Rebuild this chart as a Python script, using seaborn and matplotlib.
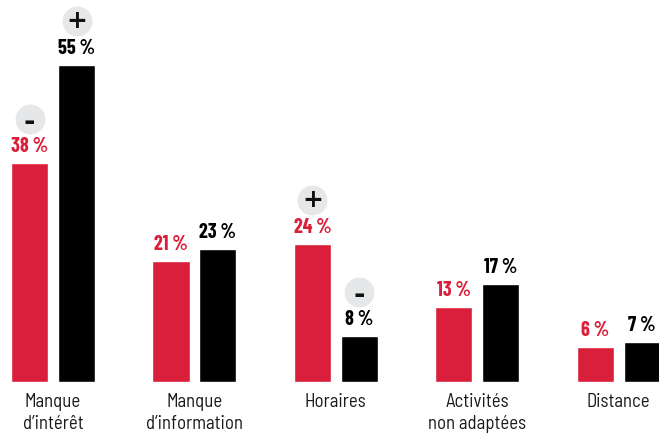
import matplotlib
matplotlib.use("Agg")
import matplotlib.pyplot as plt
import matplotlib.transforms as mtransforms
import pandas as pd
import seaborn as sns

# Reasons given, two groups compared
categories = ["Manque\nd\u2019intérêt", "Manque\nd\u2019information", "Horaires",
              "Activités\nnon adaptées", "Distance"]
values_red = [38, 21, 24, 13, 6]
values_black = [55, 23, 8, 17, 7]
signs_red = ["-", "", "+", "", ""]
signs_black = ["+", "", "-", "", ""]
groups = ["groupe A", "groupe B"]

RED = "#d91f3a"
BLACK = "#000000"
CIRCLE = "#e6e7e8"
NARROW = ["Barlow Condensed", "Roboto Condensed", "Archivo Narrow", "DejaVu Sans"]
SEMI = ["Barlow Semi Condensed", "Barlow Condensed", "DejaVu Sans"]

df = pd.DataFrame({
    "categorie": categories * 2,
    "valeur": values_red + values_black,
    "groupe": [groups[0]] * len(categories) + [groups[1]] * len(categories),
})

sns.set_theme(style="white")
plt.rcParams["font.family"] = NARROW

fig = plt.figure(figsize=(6.59, 4.33), dpi=100)
ax = fig.add_axes([0, 51 / 433, 1, 382 / 433])

sns.barplot(data=df, x="categorie", y="valeur", hue="groupe",
            order=categories, hue_order=groups,
            palette=[RED, BLACK], width=0.664, gap=0.21,
            legend=False, ax=ax, saturation=1)

ax.set_xlim(-0.375, 4.285)
ax.set_ylim(0, 66.2)
ax.set_xlabel("")
ax.set_ylabel("")
ax.set_yticks([])
for s in ax.spines.values():
    s.set_visible(False)
ax.tick_params(axis="x", length=0, pad=8)
for lab in ax.get_xticklabels():
    lab.set_fontsize(13.5)
    lab.set_family(SEMI)
    lab.set_linespacing(1.25)
    lab.set_color("#1a1a1a")
    lab.set_verticalalignment("top")

# Grey discs with a +/- sign sit above some bars
circle_tr = mtransforms.offset_copy(ax.transData, fig=fig, x=0, y=44, units="dots")
minus_tr = mtransforms.offset_copy(ax.transData, fig=fig, x=0, y=41, units="dots")
for container, vals, signs, col in zip(ax.containers,
                                       [values_red, values_black],
                                       [signs_red, signs_black],
                                       [RED, BLACK]):
    ax.bar_label(container, labels=[f"{v}\u2009%" for v in vals], padding=5,
                 color=col, fontsize=14.5, fontweight="bold", family=NARROW)
    for bar, v, sgn in zip(container, vals, signs):
        if not sgn:
            continue
        cx = bar.get_x() + bar.get_width() / 2
        ax.plot([cx], [v], marker="o", markersize=20.5, color=CIRCLE,
                transform=circle_tr, clip_on=False, zorder=3)
        ax.text(cx, v, sgn, transform=circle_tr if sgn == "+" else minus_tr,
                ha="center", va="center", fontsize=18 if sgn == "+" else 20,
                fontweight="bold", color="#111111", family=["DejaVu Sans"],
                zorder=4)

fig.savefig("out.png", dpi=100)
